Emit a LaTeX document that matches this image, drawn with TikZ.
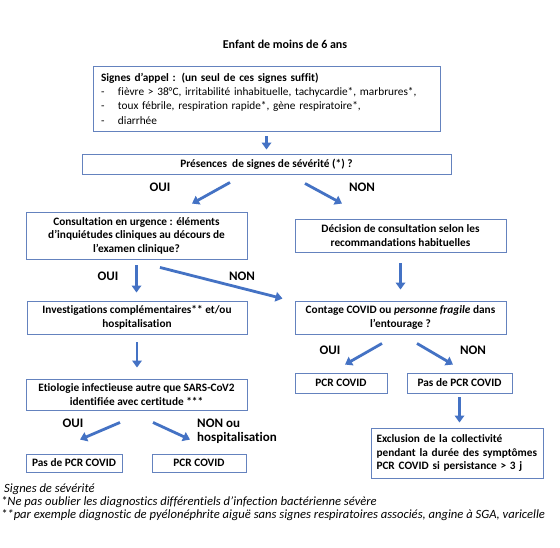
\documentclass[tikz,border=0pt]{standalone}
\usepackage{fontspec}
\setmainfont[Ligatures=NoCommon]{Carlito}
\usetikzlibrary{arrows.meta,calc}
\definecolor{boxc}{RGB}{100,130,190}
\definecolor{arrc}{RGB}{68,114,196}
\begin{document}
\begin{tikzpicture}[x=1pt,y=-1pt,
 box/.style={draw=boxc,line width=0.9pt,inner sep=0pt,align=center,font=\fontsize{11.3}{13.5}\selectfont\bfseries},
 arr/.style={draw=arrc,line width=2.8pt,-{Triangle[width=9.5pt,length=7pt]}},
 lab/.style={font=\fontsize{13}{15}\selectfont\bfseries},
 foot/.style={font=\fontsize{12.6}{13}\selectfont\itshape,anchor=west,inner sep=0pt}]
\useasboundingbox[fill=white] (0,0) rectangle (560,547);
\node[font=\fontsize{12}{14}\selectfont\bfseries] (title) at (285,44) {Enfant de moins de 6 ans};
\node[box,font=\fontsize{11.3}{14.3}\selectfont,align=left,text width=331pt,minimum height=65pt,inner xsep=8pt] (b1) at (266.5,98.5)
 {\textbf{Signes d’appel : (un seul de ces signes suffit)}\\
 \makebox[17pt][l]{-}fièvre > 38°C, irritabilité inhabituelle, tachycardie*, marbrures*,\\
 \makebox[17pt][l]{-}toux fébrile, respiration rapide*, gène respiratoire*,\\
 \makebox[17pt][l]{-}diarrhée};
\node[box,minimum width=369pt,minimum height=20pt] (b2) at (266.5,164) {Présences\ \ de signes de sévérité (*) ?};
\node[box,minimum width=221pt,minimum height=47pt] (b3) at (136.5,235.5) {Consultation en urgence : éléments\\d’inquiétudes cliniques au décours de\\l’examen clinique?};
\node[box,minimum width=211pt,minimum height=33pt] (b4) at (400.5,235.5) {Décision de consultation selon les\\recommandations habituelles};
\node[box,minimum width=220pt,minimum height=33pt] (b5) at (137,317.5) {Investigations complémentaires** et/ou\\hospitalisation};
\node[box,minimum width=211pt,minimum height=33pt] (b6) at (400.5,317.5) {Contage COVID ou \textit{personne fragile} dans\\l’entourage ?};
\node[box,minimum width=221pt,minimum height=31pt] (b7) at (136.5,394.5) {Etiologie infectieuse autre que SARS-CoV2\\identifiée avec certitude ***};
\node[box,minimum width=92pt,minimum height=20pt] (b8) at (341,383) {PCR COVID};
\node[box,minimum width=105pt,minimum height=20pt] (b9) at (459.5,383) {Pas de PCR COVID};
\node[box,align=left,text width=162pt,inner xsep=5pt,minimum height=50pt] (b10) at (457.5,453) {\mbox{Exclusion de la collectivité}\\\mbox{pendant la durée des symptômes}\\\mbox{PCR COVID si persistance > 3 j}};
\node[box,minimum width=96pt,minimum height=18pt] (b11) at (74,463) {Pas de PCR COVID};
\node[box,minimum width=94pt,minimum height=18pt] (b12) at (199,463) {PCR COVID};
% labels
\node[lab] (l1) at (160,187) {OUI};
\node[lab] (l2) at (362,187) {NON};
\node[lab] (l3) at (108,276) {OUI};
\node[lab] (l4) at (242,276) {NON};
\node[lab] (l5) at (330,350) {OUI};
\node[lab] (l6) at (473,350) {NON};
\node[lab] (l7) at (73,423) {OUI};
\node[lab,anchor=west,inner sep=0pt] (l8a) at (197,423) {NON ou};
\node[lab,anchor=west,inner sep=0pt] (l8b) at (197,438) {hospitalisation};
% arrows
\draw[arr,shorten <=5pt,shorten >=4pt] (b1.south) -- (b2.north);
\draw[arr] ($(b2.south)+(-36.5,8)$) -- ($(b3.north)+(55.5,-8)$);
\draw[arr] ($(b2.south)+(38.5,9)$) -- ($(b4.north)+(-58.5,-15)$);
\draw[arr,shorten <=6pt,shorten >=8pt] (b3.south) -- (b3.south |- b5.north);
\draw[arr] ($(b3.south)+(23.5,8)$) -- ($(b6.north west)+(-12,-2)$);
\draw[arr,shorten <=11pt,shorten >=11pt] (b4.south) -- (b6.north);
\draw[arr,shorten <=8pt,shorten >=11pt] (b5.south) -- (b5.south |- b7.north);
\draw[arr] ($(b7.south)+(-16.5,12)$) -- ($(b11.north)+(6,-14)$);
\draw[arr] ($(b7.south)+(16.5,12)$) -- ($(b12.north)+(-9,-14)$);
\draw[arr] ($(b6.south)+(-18.5,9)$) -- ($(b8.north)+(4,-8)$);
\draw[arr] ($(b6.south)+(16.5,9)$) -- ($(b9.north)+(-6.5,-8)$);
\draw[arr,shorten <=4pt,shorten >=5pt] (b9.south) -- (b9.south |- b10.north);
% footnotes
\node[foot] (f1) at (4,489) {Signes de sévérité};
\node[foot] (f2) at (1,502) {*Ne pas oublier les diagnostics différentiels d’infection bactérienne sévère};
\node[foot] (f3) at (1,515) {**par exemple diagnostic de pyélonéphrite aiguë sans signes respiratoires associés, angine à SGA, varicelle};
\end{tikzpicture}
\end{document}
